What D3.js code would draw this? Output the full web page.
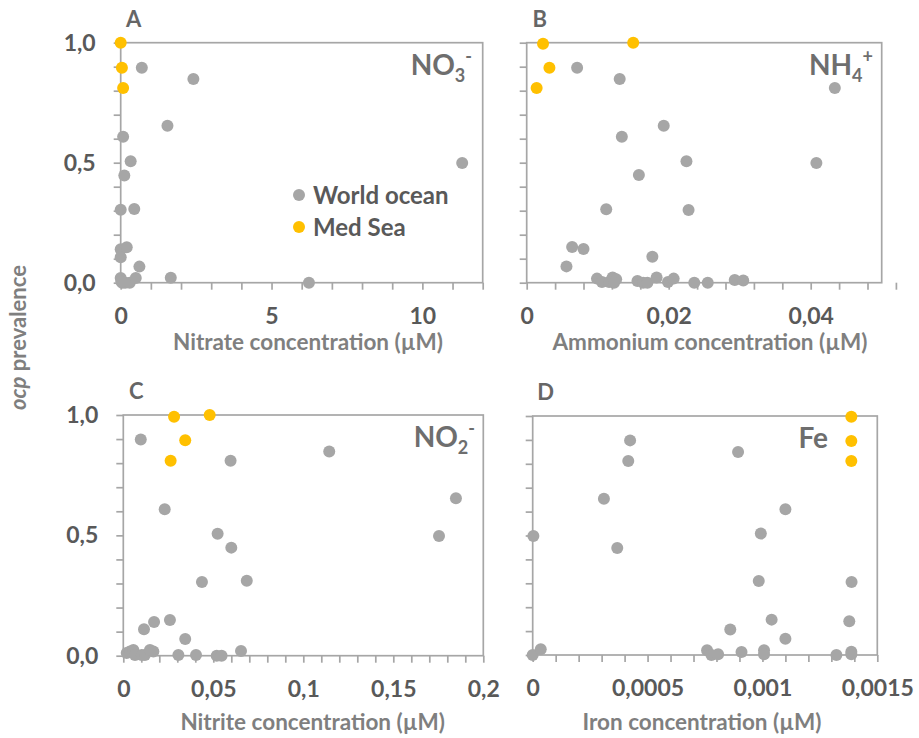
<!DOCTYPE html>
<html>
<head>
<meta charset="utf-8">
<script src="https://cdn.jsdelivr.net/npm/d3@7"></script>
<style>
  html, body { margin: 0; padding: 0; background: #fff; }
  svg { display: block; font-family: Lato, "Open Sans", sans-serif; font-weight: bold; }
</style>
</head>
<body>
<svg id="chart" width="919" height="738"></svg>
<script>
// values: [concentration, ocp prevalence]
var nitrateWorld = [[0.70,0.896],[2.41,0.849],[1.55,0.654],[0.08,0.608],[0.33,0.506],[0.12,0.447],
	[0.0,0.304],[0.45,0.307],[0.0,0.139],[0.2,0.148],[0.0,0.106],[0.62,0.067],[1.66,0.021],
	[6.24,0.0],[11.32,0.499],[0.0,0.02],[0.05,0.0],[0.15,0.0],[0.3,0.0],[0.5,0.02],[0.02,0.005]];
var nitrateMed = [[0.0,1.0],[0.04,0.896],[0.08,0.811]];

var ammoniumWorld = [[0.0071,0.896],[0.0131,0.849],[0.0434,0.811],[0.0193,0.654],[0.0134,0.608],
	[0.0225,0.506],[0.0408,0.499],[0.0158,0.449],[0.0112,0.306],[0.0228,0.303],[0.0064,0.149],
	[0.0080,0.140],[0.0177,0.108],[0.0056,0.068],[0.0099,0.017],[0.0106,0.003],[0.0116,0.003],
	[0.0121,0.022],[0.0126,0.014],[0.0123,0.0],[0.0156,0.007],[0.0164,0.0],[0.017,0.0],
	[0.0183,0.022],[0.0199,0.003],[0.0207,0.017],[0.0236,0.0],[0.0255,0.0],[0.0293,0.011],[0.0305,0.009]];
var ammoniumMed = [[0.0023,0.996],[0.015,1.0],[0.0032,0.896],[0.0014,0.811]];

var nitriteWorld = [[0.0097,0.898],[0.1144,0.848],[0.0596,0.81],[0.1848,0.654],[0.023,0.608],
	[0.0524,0.507],[0.1754,0.497],[0.06,0.449],[0.0437,0.306],[0.0686,0.311],[0.0259,0.148],
	[0.0171,0.14],[0.0115,0.11],[0.0344,0.069],[0.0019,0.011],[0.0037,0.017],[0.0056,0.024],
	[0.0065,0.003],[0.0102,0.003],[0.012,0.003],[0.0148,0.024],[0.0167,0.017],[0.0306,0.003],
	[0.0404,0.003],[0.0519,0],[0.0546,0],[0.0654,0.02]];
var nitriteMed = [[0.0282,0.993],[0.048,1.0],[0.0344,0.895],[0.0263,0.81]];

var ironWorld = [[0.000424,0.898],[0.000416,0.812],[0.000894,0.849],[0.00031,0.654],[0.0011,0.61],
	[0.000003,0.498],[0.000993,0.508],[0.000368,0.448],[0.000984,0.31],[0.001388,0.305],
	[0.00104,0.148],[0.001378,0.141],[0.00086,0.107],[0.0011,0.068],[0,0],[0.000035,0.024],
	[0.000759,0.02],[0.000778,0],[0.000807,0.003],[0.000909,0.013],[0.001007,0.02],
	[0.001007,0.003],[0.001322,0],[0.001387,0.014],[0.001387,0.003]];
var ironMed = [[0.001387,0.997],[0.001387,0.895],[0.001387,0.812]];

var seriesNames = ['World ocean', 'Med Sea'];
var yTickLabels = [0, 0.5, 1];

var GRAY = '#a6a6a6', ORANGE = '#ffc000', AXIS = '#a6a6a6';

var panels = [
	{ letter: 'A', ion: ['NO', '3', '-'], title: 'Nitrate concentration (µM)', world: nitrateWorld, med: nitrateMed,
	  max: 12, step: 1, labelStep: 5, left: 120.7, right: 482.7, top: 42.7, bottom: 282.7, yLabels: true, legend: true,
	  titleX: 308, titleY: 350, ionX: 472 },
	{ letter: 'B', ion: ['NH', '4', '+'], title: 'Ammonium concentration (µM)', world: ammoniumWorld, med: ammoniumMed,
	  max: 0.05, step: 0.004, labelStep: 0.02, left: 526.7, right: 881.7, top: 42.7, bottom: 282.7, yLabels: false,
	  titleX: 710, titleY: 350, ionX: 873 },
	{ letter: 'C', ion: ['NO', '2', '-'], title: 'Nitrite concentration (µM)', world: nitriteWorld, med: nitriteMed,
	  max: 0.2, step: 0.01, labelStep: 0.05, left: 123.3, right: 483.3, top: 415, bottom: 655.7, yLabels: true,
	  titleX: 312.7, titleY: 730, ionX: 475 },
	{ letter: 'D', ion: ['Fe', '', ''], title: 'Iron concentration (µM)', world: ironWorld, med: ironMed,
	  max: 0.0015, step: 0.0001, labelStep: 0.0005, left: 532.7, right: 877.3, top: 416, bottom: 655, yLabels: false,
	  titleX: 702, titleY: 730, ionX: 828 }
];

var locale = d3.formatLocale({ decimal: ',', thousands: '.', grouping: [3], currency: ['', '€'] });
var fmtX = locale.format('~g');
var fmtY = locale.format('.1f');

var svg = d3.select('#chart');

function onStep(v, s) {
	var r = v / s;
	return Math.abs(r - Math.round(r)) < 1e-6;
}

panels.forEach(function (p) {
	var x = d3.scaleLinear().domain([0, p.max]).range([p.left, p.right]);
	var y = d3.scaleLinear().domain([0, 1]).range([p.bottom, p.top]);
	var g = svg.append('g');

	var n = Math.round(p.max / p.step);
	var xTicks = d3.range(0, n + 1).map(function (i) { return i * p.step; });
	var yTicks = d3.range(0, 11).map(function (i) { return i / 10; });

	var xAxis = g.append('g').attr('transform', 'translate(0,' + p.bottom + ')')
		.call(d3.axisBottom(x).tickValues(xTicks).tickSize(7).tickSizeOuter(0).tickPadding(18)
			.tickFormat(function (v) { return onStep(v, p.labelStep) ? fmtX(v) : ''; }));
	var yAxis = g.append('g').attr('transform', 'translate(' + p.left + ',0)')
		.call(d3.axisLeft(y).tickValues(yTicks).tickSize(7).tickSizeOuter(0).tickPadding(18)
			.tickFormat(function (v) {
				if (!p.yLabels) return '';
				return yTickLabels.some(function (t) { return Math.abs(t - v) < 1e-6; }) ? fmtY(v) : '';
			}));
	[xAxis, yAxis].forEach(function (a) {
		a.select('.domain').remove();
		a.selectAll('line').attr('stroke', AXIS).attr('stroke-width', 1.7);
		a.selectAll('text').attr('fill', '#595959').style('font-size', '23px')
			.style('font-family', 'Lato, sans-serif').style('font-weight', 'bold');
	});

	g.append('rect')
		.attr('x', p.left).attr('y', p.top)
		.attr('width', p.right - p.left).attr('height', p.bottom - p.top)
		.attr('fill', 'none').attr('stroke', AXIS).attr('stroke-width', 1.7);

	g.append('g').selectAll('circle').data(p.world).join('circle')
		.attr('cx', function (d) { return x(d[0]); })
		.attr('cy', function (d) { return y(d[1]); })
		.attr('r', 6).attr('fill', GRAY);
	g.append('g').selectAll('circle').data(p.med).join('circle')
		.attr('cx', function (d) { return x(d[0]); })
		.attr('cy', function (d) { return y(d[1]); })
		.attr('r', 6).attr('fill', ORANGE);

	// panel letter
	g.append('text').attr('x', p.left + 13).attr('y', p.top - 16)
		.attr('text-anchor', 'middle').attr('fill', '#666666').style('font-size', '22px')
		.text(p.letter);

	// ion label, top right
	var ion = g.append('text').attr('x', p.ionX).attr('y', p.top + 32)
		.attr('text-anchor', 'end').attr('fill', '#6e6e6e').style('font-size', '28px');
	ion.append('tspan').text(p.ion[0]);
	if (p.ion[1]) {
		ion.append('tspan').attr('dy', 7).style('font-size', '18px').text(p.ion[1]);
		ion.append('tspan').attr('dy', -19).style('font-size', '18px').text(p.ion[2]);
	}

	// x axis title
	g.append('text').attr('x', p.titleX).attr('y', p.titleY)
		.attr('text-anchor', 'middle').attr('fill', '#7f7f7f').style('font-size', '22.5px')
		.text(p.title);

	if (p.legend) {
		var lg = g.append('g');
		seriesNames.forEach(function (name, i) {
			lg.append('circle').attr('cx', 299).attr('cy', 195 + i * 32).attr('r', 6)
				.attr('fill', i === 0 ? GRAY : ORANGE);
			lg.append('text').attr('x', 313).attr('y', 195 + i * 32).attr('dy', '0.36em')
				.attr('fill', '#595959').style('font-size', '24px').text(name);
		});
	}
});

// shared y axis title
var yt = svg.append('text').attr('transform', 'translate(26,337.5) rotate(-90)')
	.attr('text-anchor', 'middle').attr('fill', '#7f7f7f').style('font-size', '22px');
yt.append('tspan').style('font-style', 'italic').text('ocp');
yt.append('tspan').text(' prevalence');
</script>
</body>
</html>
